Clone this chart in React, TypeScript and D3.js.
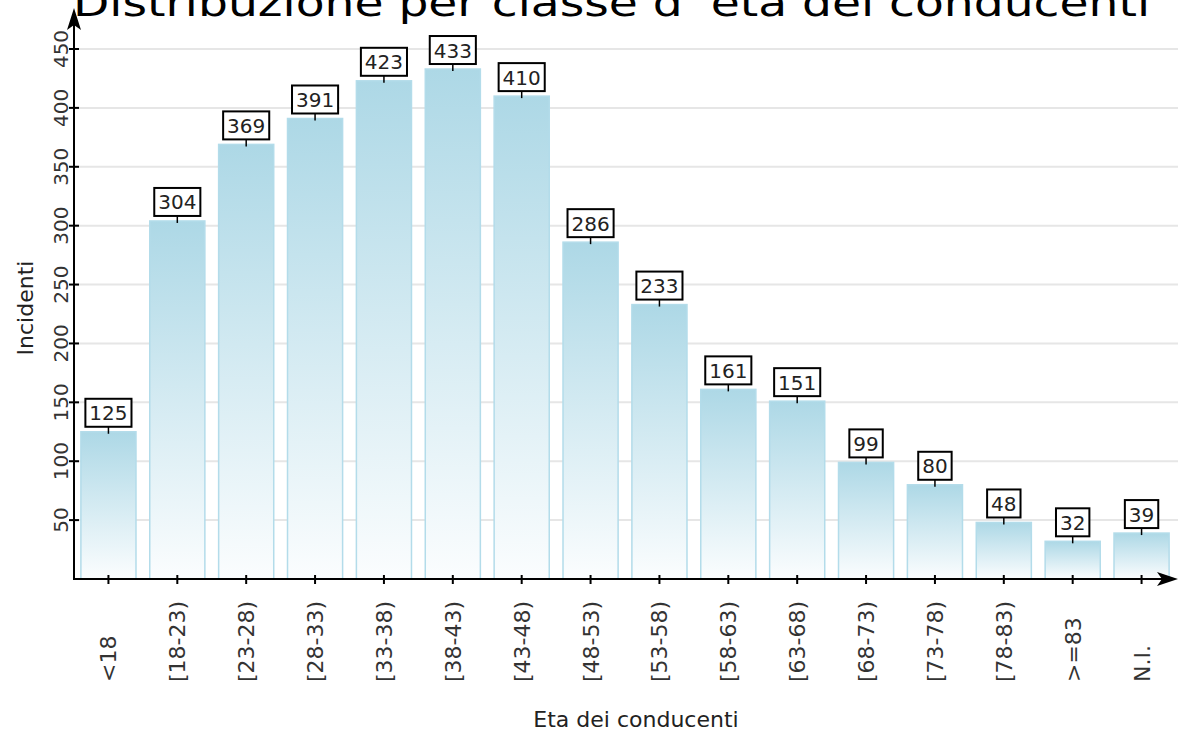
import * as d3 from 'd3';

const categories = ['<18', '[18-23)', '[23-28)', '[28-33)', '[33-38)', '[38-43)', '[43-48)', '[48-53)',
  '[53-58)', '[58-63)', '[63-68)', '[68-73)', '[73-78)', '[78-83)', '>=83', 'N.I.'];
const incidents = [125, 304, 369, 391, 423, 433, 410, 286, 233, 161, 151, 99, 80, 48, 32, 39];
const yTicks = [50, 100, 150, 200, 250, 300, 350, 400, 450];

const W = 1178, H = 734;
const font = '"DejaVu Sans", Verdana, sans-serif';

export default function App() {
  const x = d3.scaleBand<string>()
    .domain(categories)
    .range([74, 1176])
    .paddingInner(0.2)
    .paddingOuter(0.1);

  const y = d3.scaleLinear().domain([0, 450]).range([579, 49]);
  const x0 = 74, y0 = y(0);

  return (
    <svg width={W} height={H} style={{ position: 'absolute', left: 0, top: 0, background: '#fff' }}
      fontFamily={font}>
      <defs>
        <linearGradient id="barFill" x1="0" y1="0" x2="0" y2="1">
          <stop offset="0%" stopColor="#add8e6" />
          <stop offset="100%" stopColor="#fbfdfe" />
        </linearGradient>
      </defs>

      {/* grid */}
      {yTicks.map(t => (
        <line key={'g' + t} x1={x0} x2={W} y1={y(t)} y2={y(t)} stroke="#e6e6e6" strokeWidth={2} />
      ))}

      {/* bars */}
      {categories.map((c, i) => (
        <rect key={c} x={x(c)} y={y(incidents[i])} width={x.bandwidth()} height={y0 - y(incidents[i])}
          fill="url(#barFill)" stroke="#b3dcea" strokeWidth={1.5} />
      ))}

      {/* axes */}
      <line x1={x0} x2={x0} y1={y0 + 1} y2={20} stroke="#000" strokeWidth={2} />
      <line x1={x0 - 1} x2={1166} y1={y0} y2={y0} stroke="#000" strokeWidth={2} />
      <path d={`M${x0},8 L${x0 + 7},30 L${x0},25 L${x0 - 7},30 Z`} fill="#000" />
      <path d={`M1178,${y0} L1157,${y0 - 7} L1162,${y0} L1157,${y0 + 7} Z`} fill="#000" />

      {yTicks.map(t => (
        <g key={'y' + t}>
          <line x1={x0 - 5} x2={x0 + 5} y1={y(t)} y2={y(t)} stroke="#000" strokeWidth={2} />
          <text transform={`translate(${x0 - 6},${y(t)}) rotate(-90)`} textAnchor="middle"
            fontSize={20} fill="#333">{t}</text>
        </g>
      ))}

      {categories.map(c => {
        const cx = (x(c) ?? 0) + x.bandwidth() / 2;
        return (
          <g key={'x' + c}>
            <line x1={cx} x2={cx} y1={y0 - 4} y2={y0 + 5} stroke="#000" strokeWidth={2} />
            <text transform={`translate(${cx + 8},682) rotate(-90)`} textAnchor="start"
              fontSize={22} fill="#333">{c}</text>
          </g>
        );
      })}

      {/* value labels */}
      {categories.map((c, i) => {
        const cx = (x(c) ?? 0) + x.bandwidth() / 2;
        const top = y(incidents[i]);
        const label = String(incidents[i]);
        const bw = label.length * 12.7 + 8;
        const bh = 28;
        const by = top - 5 - bh;
        return (
          <g key={'l' + c}>
            <line x1={cx} x2={cx} y1={top - 6} y2={top + 2} stroke="#000" strokeWidth={1.5} />
            <rect x={cx - bw / 2} y={by} width={bw} height={bh} fill="#fff" stroke="#000" strokeWidth={2} />
            <text x={cx} y={by + 21.5} textAnchor="middle" fontSize={20} fill="#222">{label}</text>
          </g>
        );
      })}

      <text transform={`translate(33,308) rotate(-90)`} textAnchor="middle" fontSize={22} fill="#222">Incidenti</text>
      <text x={636} y={727} textAnchor="middle" fontSize={22} fill="#222">Eta dei conducenti</text>

      <text x={73} y={16} fontSize={38} fill="#000" textLength={1077} lengthAdjust="spacingAndGlyphs">
        Distribuzione per classe d' età dei conducenti
      </text>
    </svg>
  );
}
